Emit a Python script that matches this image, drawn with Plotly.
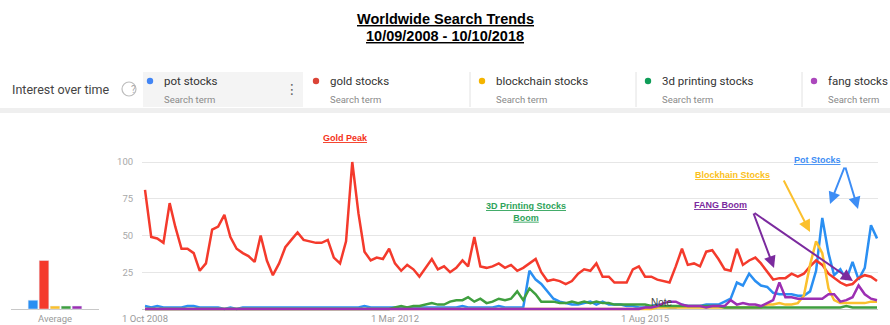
import pandas as pd
import plotly.graph_objects as go

# ---------------- data ----------------
months = pd.date_range("2008-10-01", periods=121, freq="MS")

terms = ["pot stocks", "gold stocks", "blockchain stocks", "3d printing stocks", "fang stocks"]

pot = ([2, 1, 2, 1, 1, 1, 1, 2, 2, 1, 1, 1, 1, 0, 1, 0, 1, 1, 1, 1,
        1, 1, 1, 1, 1, 1, 1, 1, 1, 1, 1, 1, 1, 1, 1, 1, 2, 1, 1, 1,
        1, 1, 1, 1, 1, 1, 1, 1, 1, 1, 1, 1, 2, 1, 1, 1, 1, 1, 2]
       + [1, 1, 1, 1, 26, 20, 17, 12, 7, 5, 4, 3, 3, 4, 5, 3, 5, 3, 3, 3,
          2, 2, 1, 1, 2, 3, 2, 1, 1, 3, 2, 2, 2, 3, 3]
       + [3, 5, 7, 18, 16, 24, 19, 16, 15, 11, 10, 10, 10, 9, 9, 12, 26, 62, 38, 23,
          27, 20, 32, 20, 28, 57, 48])

gold = ([81, 49, 48, 45, 72, 56, 41, 41, 38, 26, 31, 54, 56, 64, 49, 41, 38, 36, 32, 50,
         33, 23, 31, 42, 47, 52, 47, 46, 45, 45, 47, 35, 31, 46, 100, 65, 39, 33, 35, 34,
         41, 31, 26, 30, 27, 22, 28, 34, 27, 29, 25, 28, 33, 29, 49, 29, 28, 29, 31]
        + [28, 30, 26, 28, 31, 34, 25, 19, 20, 19, 17, 19, 24, 27, 26, 31, 22, 22, 18, 18,
           18, 27, 29, 22, 22, 20, 19, 18, 29, 41]
        + [30, 31, 29, 39, 40, 34, 27, 26, 41, 30, 33, 35, 31, 25, 20, 21, 21, 24, 22, 24,
           29, 33, 30, 24, 21, 18, 16, 17, 21, 23, 22, 19])

blockchain = ([0] * 84
              + [1, 1, 1, 1, 1, 1, 1, 1, 1, 1, 1, 1, 1, 1, 1, 1, 1, 1, 3]
              + [3, 4, 3, 3, 4, 9, 30, 46, 38, 14, 6, 4, 4, 4, 4, 4, 5, 5])

printing3d = ([0] * 40
              + [0, 1, 2, 1, 2, 2, 3, 4, 3, 3, 5, 6, 6, 8, 5, 7, 4, 5, 7, 6,
                 7, 12, 6, 14, 10, 5, 5]
              + [5, 4, 4, 5, 4, 5, 4, 5, 4, 4, 3, 3, 3, 3, 3, 3, 2, 2, 2, 2,
                 2, 2, 2, 2, 2, 2, 2, 2]
              + [1] * 20 + [2] + [1] * 5)

fang = ([0] * 82
        + [1, 1, 2, 4, 5, 5, 3, 2, 2, 2, 1, 2, 2, 2, 6, 3, 4, 3, 3, 2,
           4, 6, 18, 8, 8, 7, 7, 7, 7, 7, 10, 10, 5, 6, 8, 16, 10, 7, 6])

averages = [6, 33, 2, 2, 2]

y_ticks = [25, 50, 75, 100]
x_tick_dates = ["2008-10-01", "2012-03-01", "2015-08-01"]
x_tick_labels = ["1 Oct 2008", "1 Mar 2012", "1 Aug 2015"]

series = [pot, gold, blockchain, printing3d, fang]
for s in series:
    assert len(s) == 121, len(s)

# ---------------- styles ----------------
line_colors = ["#2a8ff2", "#f43a2c", "#fbc02d", "#3f9f3f", "#9c2fb3"]
dot_colors = ["#4285f4", "#db4437", "#f4b400", "#0f9d58", "#ab47bc"]
W, H = 890, 325


def px(x):
    return x / W


def py(y):
    return 1 - y / H


fig = go.Figure()
for name, vals, col in zip(terms, series, line_colors):
    fig.add_trace(go.Scatter(x=months, y=vals, mode="lines", name=name,
                             line=dict(color=col, width=2.5),
                             xaxis="x", yaxis="y", showlegend=False))

fig.add_trace(go.Bar(x=list(range(len(terms))), y=averages, marker_color=line_colors,
                     width=0.88, xaxis="x2", yaxis="y2", showlegend=False))

y_dom = [py(311.2), py(154.65)]

fig.update_layout(
    width=W, height=H,
    margin=dict(l=0, r=0, t=0, b=0),
    paper_bgcolor="white", plot_bgcolor="white",
    font=dict(family="Roboto, Arial, sans-serif"),
    xaxis=dict(domain=[px(142), px(878)], range=["2008-09-16", "2018-10-06"],
               tickvals=x_tick_dates, ticktext=x_tick_labels,
               tickfont=dict(size=9.5, color="#9a9a9a"), showgrid=False,
               zeroline=False, showline=False, ticks="", automargin=False),
    yaxis=dict(domain=y_dom, range=[-1.5, 105], tickvals=y_ticks,
               tickfont=dict(size=9.5, color="#a8a8a8"),
               showgrid=True, gridcolor="#e6e6e6", gridwidth=1,
               zeroline=True, zerolinecolor="#c8c8c8", zerolinewidth=1,
               ticks="outside", ticklen=6, tickcolor="rgba(0,0,0,0)",
               showline=False, automargin=False),
    xaxis2=dict(domain=[px(11), px(99)], range=[-2, 6], anchor="y2",
                tickvals=[2], ticktext=["Average"],
                tickfont=dict(size=9.5, color="#9a9a9a"),
                showgrid=False, zeroline=False, showline=False, ticks="", automargin=False),
    yaxis2=dict(domain=y_dom, range=[-1.5, 105], anchor="x2", showgrid=False,
                showticklabels=False, zeroline=True, zerolinecolor="#c8c8c8",
                zerolinewidth=1, automargin=False),
)

shapes = []
# header band
shapes.append(dict(type="rect", xref="paper", yref="paper", x0=0, x1=1,
                   y0=py(113), y1=py(108), fillcolor="#efefef", line_width=0, layer="below"))
shapes.append(dict(type="rect", xref="paper", yref="paper", x0=px(143), x1=px(303),
                   y0=py(107), y1=py(72), fillcolor="#f4f4f4", line_width=0, layer="below"))
for sx in [470, 636, 802]:
    shapes.append(dict(type="line", xref="paper", yref="paper", x0=px(sx), x1=px(sx),
                       y0=py(107), y1=py(72), line=dict(color="#e2e2e2", width=1)))
# help circle
shapes.append(dict(type="circle", xref="paper", yref="paper", x0=px(122), x1=px(136),
                   y0=py(96), y1=py(82), line=dict(color="#bdbdbd", width=1.2)))
# legend dots
dot_x = [150, 316, 482, 648, 814]
for dx, dc in zip(dot_x, dot_colors):
    shapes.append(dict(type="circle", xref="paper", yref="paper", x0=px(dx - 3.2), x1=px(dx + 3.2),
                       y0=py(84.2), y1=py(77.8), fillcolor=dc, line_width=0))
fig.update_layout(shapes=shapes)

ann = []
ann.append(dict(text="<b><u>Worldwide Search Trends</u></b>", x=px(445), y=py(19),
                font=dict(family="Liberation Sans, Arial", size=14.5, color="#000")))
ann.append(dict(text="<b><u>10/09/2008 - 10/10/2018</u></b>", x=px(445), y=py(35.5),
                font=dict(family="Liberation Sans, Arial", size=14.5, color="#000")))
ann.append(dict(text="Interest over time", x=px(10), y=py(89), xanchor="left",
                font=dict(size=12.5, color="#444")))
ann.append(dict(text="?", x=px(129), y=py(89), font=dict(size=10, color="#aaa")))
ann.append(dict(text="⋮", x=px(283), y=py(89), font=dict(size=14, color="#666",
                family="DejaVu Sans")))
for dx, t in zip(dot_x, terms):
    ann.append(dict(text=t, x=px(dx + 12), y=py(81), xanchor="left",
                    font=dict(size=11.5, color="#333")))
    ann.append(dict(text="Search term", x=px(dx + 12), y=py(99), xanchor="left",
                    font=dict(size=9.5, color="#8a8a8a")))

lab_font = "Liberation Sans, Arial"
ann.append(dict(text="<b><u>Gold Peak</u></b>", x=px(345), y=py(138),
                font=dict(family=lab_font, size=9, color="#f4311a")))
ann.append(dict(text="<b><u>3D Printing Stocks</u></b><br><b><u>Boom</u></b>", x=px(526), y=py(212),
                font=dict(family=lab_font, size=9, color="#2ea35a")))
ann.append(dict(text="<b><u>FANG Boom</u></b>", x=px(749), y=py(205),
                font=dict(family=lab_font, size=9, color="#7b2a9e")))
ann.append(dict(text="<b><u>Blockhain Stocks</u></b>", x=px(772), y=py(175),
                font=dict(family=lab_font, size=9, color="#fbbf1c")))
ann.append(dict(text="<b><u>Pot Stocks</u></b>", x=px(843), y=py(160),
                font=dict(family=lab_font, size=9, color="#3d8df5")))
ann.append(dict(text="Note", x=px(675), y=py(302),
                font=dict(family=lab_font, size=10, color="#444")))

arrows = [
    ((783, 179), (810, 232), "#fbc02d"),
    ((845, 166), (830, 204), "#3d8df5"),
    ((845, 166), (858, 209), "#3d8df5"),
    ((753, 212), (774, 268), "#7b2a9e"),
    ((753, 212), (853, 281), "#7b2a9e"),
]
for (tx, ty), (hx, hy), c in arrows:
    ann.append(dict(text="", x=px(hx), y=py(hy), ax=tx - hx, ay=ty - hy,
                    axref="pixel", ayref="pixel", showarrow=True,
                    arrowhead=2, arrowsize=1.2, arrowwidth=2, arrowcolor=c))

for a in ann:
    a.setdefault("xref", "paper")
    a.setdefault("yref", "paper")
    a.setdefault("showarrow", False)
    if a["text"]:
        a.setdefault("yanchor", "middle")
fig.update_layout(annotations=ann)

fig.write_html("out.html")
